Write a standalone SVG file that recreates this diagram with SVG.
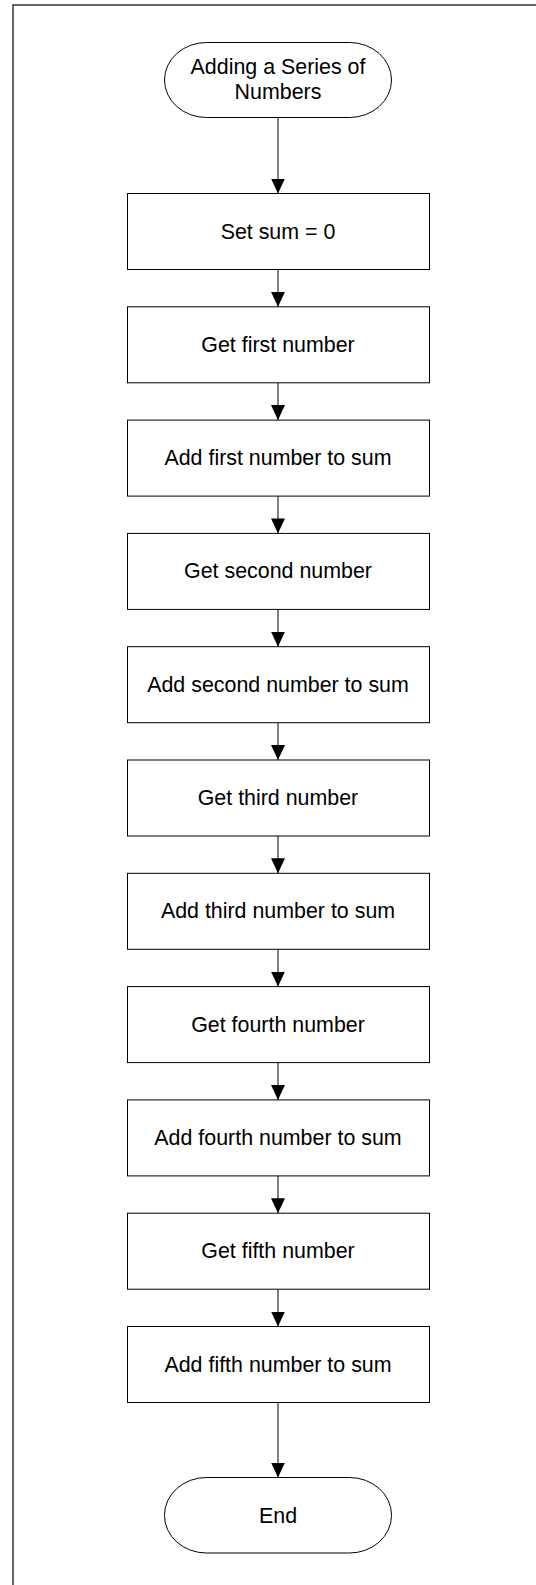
<svg xmlns="http://www.w3.org/2000/svg" width="536" height="1585" viewBox="0 0 536 1585">
  <style>
    .box { fill: #fff; stroke: #000; stroke-width: 1; }
    .lbl { font-family: "Liberation Sans", Arial, sans-serif; font-size: 21.4px; fill: #000; text-anchor: middle; }
    .flow { stroke: #000; stroke-width: 1; fill: none; marker-end: url(#arrow); }
  </style>
  <defs>
    <marker id="arrow" markerWidth="15" markerHeight="14" refX="15" refY="7" orient="auto" markerUnits="userSpaceOnUse">
      <path d="M0,0 L15,7 L0,14 z" fill="#000"/>
    </marker>
  </defs>
  <rect width="536" height="1585" fill="#fff"/>
  <!-- page frame -->
  <path d="M13,1585 V5 H536" fill="none" stroke="#333" stroke-width="1.5"/>

  <g id="connectors">
    <line class="flow" x1="278" y1="117.5" x2="278" y2="193.5"/>
    <line class="flow" x1="278" y1="269.5" x2="278" y2="306.8"/>
    <line class="flow" x1="278" y1="382.8" x2="278" y2="420.1"/>
    <line class="flow" x1="278" y1="496.1" x2="278" y2="533.4"/>
    <line class="flow" x1="278" y1="609.4" x2="278" y2="646.7"/>
    <line class="flow" x1="278" y1="722.7" x2="278" y2="760"/>
    <line class="flow" x1="278" y1="836" x2="278" y2="873.3"/>
    <line class="flow" x1="278" y1="949.3" x2="278" y2="986.6"/>
    <line class="flow" x1="278" y1="1062.6" x2="278" y2="1099.9"/>
    <line class="flow" x1="278" y1="1175.9" x2="278" y2="1213.2"/>
    <line class="flow" x1="278" y1="1289.2" x2="278" y2="1326.5"/>
    <line class="flow" x1="278" y1="1402.5" x2="278" y2="1477.5"/>
  </g>

  <g id="start">
    <rect class="box" x="164.5" y="42.5" width="227" height="75" rx="42" ry="37.5"/>
    <text class="lbl" x="278" y="73.5">Adding a Series of</text>
    <text class="lbl" x="278" y="98.5">Numbers</text>
  </g>
  <g id="set-sum">
    <rect class="box" x="127.5" y="193.5" width="302" height="76"/>
    <text class="lbl" x="278" y="238.5">Set sum = 0</text>
  </g>
  <g id="get-first">
    <rect class="box" x="127.5" y="306.8" width="302" height="76"/>
    <text class="lbl" x="278" y="351.8">Get first number</text>
  </g>
  <g id="add-first">
    <rect class="box" x="127.5" y="420.1" width="302" height="76"/>
    <text class="lbl" x="278" y="465.1">Add first number to sum</text>
  </g>
  <g id="get-second">
    <rect class="box" x="127.5" y="533.4" width="302" height="76"/>
    <text class="lbl" x="278" y="578.4">Get second number</text>
  </g>
  <g id="add-second">
    <rect class="box" x="127.5" y="646.7" width="302" height="76"/>
    <text class="lbl" x="278" y="691.7">Add second number to sum</text>
  </g>
  <g id="get-third">
    <rect class="box" x="127.5" y="760" width="302" height="76"/>
    <text class="lbl" x="278" y="805">Get third number</text>
  </g>
  <g id="add-third">
    <rect class="box" x="127.5" y="873.3" width="302" height="76"/>
    <text class="lbl" x="278" y="918.3">Add third number to sum</text>
  </g>
  <g id="get-fourth">
    <rect class="box" x="127.5" y="986.6" width="302" height="76"/>
    <text class="lbl" x="278" y="1031.6">Get fourth number</text>
  </g>
  <g id="add-fourth">
    <rect class="box" x="127.5" y="1099.9" width="302" height="76"/>
    <text class="lbl" x="278" y="1144.9">Add fourth number to sum</text>
  </g>
  <g id="get-fifth">
    <rect class="box" x="127.5" y="1213.2" width="302" height="76"/>
    <text class="lbl" x="278" y="1258.2">Get fifth number</text>
  </g>
  <g id="add-fifth">
    <rect class="box" x="127.5" y="1326.5" width="302" height="76"/>
    <text class="lbl" x="278" y="1371.5">Add fifth number to sum</text>
  </g>
  <g id="end">
    <rect class="box" x="164.5" y="1477.5" width="227" height="75.5" rx="42" ry="37.5"/>
    <text class="lbl" x="278" y="1522.5">End</text>
  </g>
</svg>
